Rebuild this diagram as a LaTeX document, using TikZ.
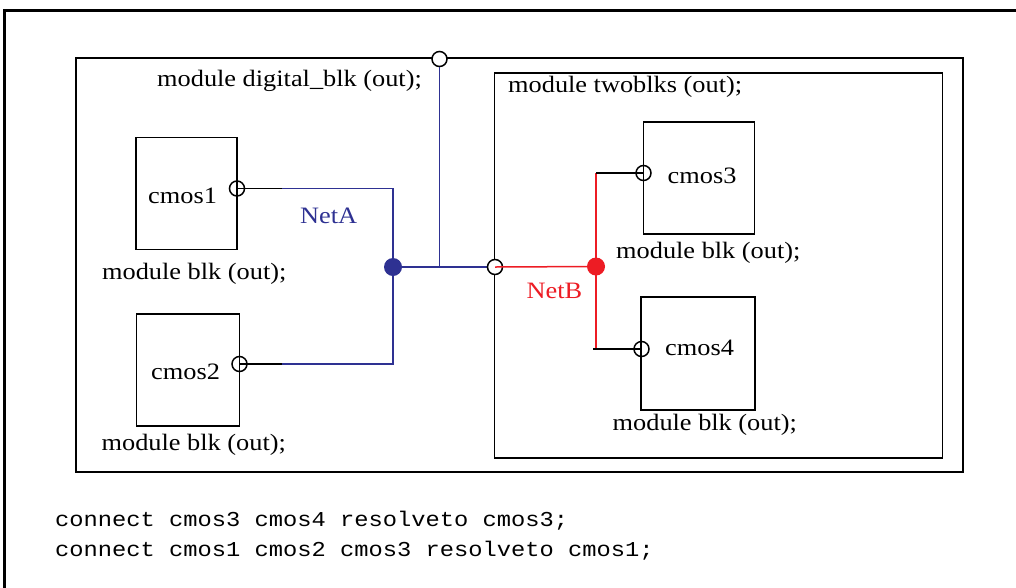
\documentclass[tikz,border=0pt]{standalone}
\usepackage{fontspec}
\setmainfont{Liberation Serif}[FakeStretch=1.12]
\setmonofont{Liberation Mono}[FakeStretch=1.12]
\definecolor{neta}{RGB}{46,49,146}
\definecolor{netb}{RGB}{237,28,36}
\begin{document}
\begin{tikzpicture}[x=1pt, y=-1pt, font=\fontsize{23.5}{28}\selectfont]
        \tikzstyle{blk}=[draw, line width=1.6pt, inner sep=0pt]
        \tikzstyle{txt}=[anchor=base west, inner sep=0pt]
        \tikzstyle{blkport}=[draw, circle, line width=1.5pt, minimum size=15pt, inner sep=0pt]
        \tikzstyle{modport}=[blkport, fill=white]
        \tikzstyle{dot}=[circle, minimum size=18pt, inner sep=0pt]
        \tikzstyle{wire}=[line width=1.5pt]
        \useasboundingbox (0,0) rectangle (1016,587);
        % outer frame
        \draw[line width=3pt] (4,600) -- (4,10) -- (1030,10);
        % Modules
        \node[blk, minimum width=887pt, minimum height=414pt] (digital) at (519.5,265) {};
        \node[blk, minimum width=448pt, minimum height=385pt] (twoblks) at (718.5,265.5) {};
        \node[blk, minimum width=101pt, minimum height=112pt] (cmos1) at (186.5,193.5) {};
        \node[blk, minimum width=103pt, minimum height=112pt] (cmos2) at (188,370) {};
        \node[blk, minimum width=111pt, minimum height=112pt] (cmos3) at (699,178) {};
        \node[blk, minimum width=114pt, minimum height=113pt] (cmos4) at (698,353.5) {};
        % Texts
        \node[txt] (digitalname) at (157,86) {module digital\_blk (out);};
        \node[txt] (twoblksname) at (508,92) {module twoblks (out);};
        \node[txt] (c1) at (148,203.5) {cmos1};
        \node[txt] (c1name) at (102,279) {module blk (out);};
        \node[txt] (c2) at (151,379) {cmos2};
        \node[txt] (c2name) at (101.5,450) {module blk (out);};
        \node[txt] (c3) at (667.5,183) {cmos3};
        \node[txt] (c3name) at (616,258.5) {module blk (out);};
        \node[txt] (c4) at (665,355.5) {cmos4};
        \node[txt] (c4name) at (612.5,430) {module blk (out);};
        \node[txt, text=neta] (netaname) at (300,223) {NetA};
        \node[txt, text=netb] (netbname) at (526.5,298) {NetB};
        \node[txt, font=\fontsize{21.2}{26}\ttfamily] (code1) at (55,526) {connect cmos3 cmos4 resolveto cmos3;};
        \node[txt, font=\fontsize{21.2}{26}\ttfamily] (code2) at (55,556) {connect cmos1 cmos2 cmos3 resolveto cmos1;};
        % Ports
        \node[blkport] (p1) at (237,188.5) {};
        \node[blkport] (p2) at (239.5,364) {};
        \node[blkport] (p3) at (643.5,173) {};
        \node[blkport] (p4) at (641.5,349) {};
        \node[dot, fill=neta] (dota) at (393,267) {};
        \node[dot, fill=netb] (dotb) at (596,266.5) {};
        \coordinate (a1) at (282,188.5);
        \coordinate (a2) at (393,188.5);
        \coordinate (a3) at (393,364);
        \coordinate (a4) at (282,364);
        \coordinate (tap) at (439.5,267);
        \coordinate (b1) at (596,173);
        \coordinate (b2) at (596,349);
        \coordinate (b3) at (593,349);
        % NetA
        \draw[wire] (p1.center) -- (a1);
        \draw[wire] (p2.center) -- (a4);
        \draw[wire, neta] (a1) -- (a2) -- (a3) -- (a4);
        \draw[wire, neta] (dota) -- (tap) -- (495,267);
        \node[modport] (top) at (439.5,59) {};
        \draw[wire, neta] (tap) -- (top);
        \node[modport] (tb) at (495,267) {};
        % NetB
        \draw[wire, netb] (tb.center) -- (dotb);
        \draw[wire, netb] (b1) -- (b2);
        \draw[wire] (b1) -- (p3.center);
        \draw[wire] (b3) -- (p4.center);
\end{tikzpicture}
\end{document}
